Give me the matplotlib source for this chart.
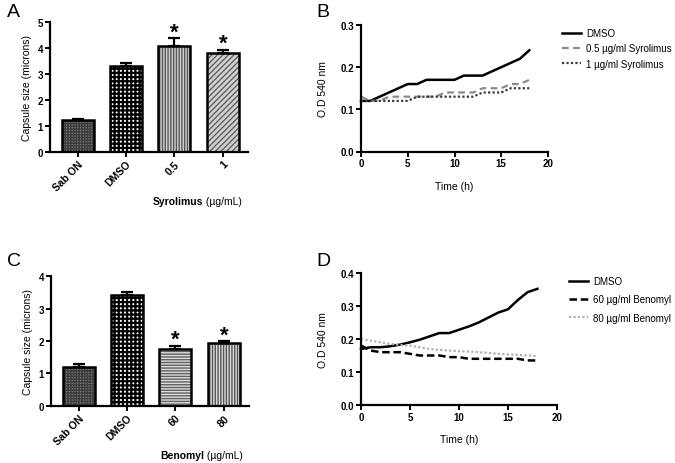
import matplotlib
matplotlib.use("Agg")
import matplotlib.pyplot as plt

plt.rcParams["font.family"] = ["Liberation Sans", "DejaVu Sans"]
plt.rcParams["hatch.linewidth"] = 1.0

# panel A / C bar data
syro_groups = ["Sab ON", "DMSO", "0.5", "1"]
syro_size = [1.21, 3.33, 4.08, 3.83]
syro_err = [0.06, 0.11, 0.30, 0.11]
syro_star = [False, False, True, True]

beno_groups = ["Sab ON", "DMSO", "60", "80"]
beno_size = [1.21, 3.42, 1.76, 1.93]
beno_err = [0.07, 0.11, 0.09, 0.07]
beno_star = [False, False, True, True]

# panel B / D growth curves
hours = [0, 1, 2, 3, 4, 5, 6, 7, 8, 9, 10, 11, 12, 13, 14, 15, 16, 17, 18]
od_syro_dmso = [0.12, 0.12, 0.13, 0.14, 0.15, 0.16, 0.16, 0.17, 0.17, 0.17,
                0.17, 0.18, 0.18, 0.18, 0.19, 0.20, 0.21, 0.22, 0.24]
od_syro_05 = [0.13, 0.12, 0.12, 0.13, 0.13, 0.13, 0.13, 0.13, 0.13, 0.14,
              0.14, 0.14, 0.14, 0.15, 0.15, 0.15, 0.16, 0.16, 0.17]
od_syro_1 = [0.12, 0.12, 0.12, 0.12, 0.12, 0.12, 0.13, 0.13, 0.13, 0.13,
             0.13, 0.13, 0.13, 0.14, 0.14, 0.14, 0.15, 0.15, 0.15]

od_beno_dmso = [0.170, 0.175, 0.175, 0.178, 0.183, 0.190, 0.198, 0.208, 0.218, 0.218,
                0.228, 0.238, 0.250, 0.265, 0.280, 0.290, 0.318, 0.342, 0.352]
od_beno_60 = [0.180, 0.165, 0.160, 0.160, 0.160, 0.155, 0.150, 0.150, 0.150, 0.145,
              0.145, 0.140, 0.140, 0.140, 0.140, 0.140, 0.140, 0.135, 0.135]
od_beno_80 = [0.200, 0.195, 0.190, 0.185, 0.182, 0.180, 0.175, 0.170, 0.167, 0.165,
              0.163, 0.162, 0.160, 0.158, 0.155, 0.153, 0.152, 0.150, 0.148]

TICK_FS = 7
LABEL_FS = 7.5
W, H = 675, 464


def style_axes(ax):
    for side in ("top", "right"):
        ax.spines[side].set_visible(False)
    for side in ("left", "bottom"):
        ax.spines[side].set_linewidth(1.6)
    ax.tick_params(direction="out", length=3.5, width=1.4, labelsize=TICK_FS, pad=1.5)
    for lab in ax.get_xticklabels() + ax.get_yticklabels():
        lab.set_fontweight("bold")


def bar_panel(ax, groups, values, errs, stars, styles, ymax, drug, drug_x):
    x = list(range(len(groups)))
    for xi, v, (face, hatch, hcol, hlw) in zip(x, values, styles):
        # hatch layer first, then the black outline on top
        with plt.rc_context({"hatch.linewidth": hlw}):
            ax.bar(xi, v, width=0.66, color=face, hatch=hatch, edgecolor=hcol, linewidth=0, zorder=2)
        ax.bar(xi, v, width=0.66, fill=False, edgecolor="black", linewidth=1.8, zorder=3)
    ax.errorbar(x, values, yerr=[[0] * len(errs), errs], fmt="none", ecolor="black",
                elinewidth=1.6, capsize=4.5, capthick=1.6, zorder=4)
    for xi, v, e, s in zip(x, values, errs, stars):
        if s:
            ax.annotate("*", xy=(xi, v + e), xytext=(0, 0.5), textcoords="offset points",
                        ha="center", va="baseline", fontsize=16, fontweight="bold")
    ax.set_xlim(-0.57, 3.52)
    ax.set_ylim(0, ymax)
    ax.set_yticks(range(ymax + 1))
    ax.set_xticks(x)
    ax.set_xticklabels(groups, rotation=45, ha="right", rotation_mode="anchor")
    ax.set_ylabel("Capsule size (microns)", fontsize=LABEL_FS, labelpad=4)
    style_axes(ax)
    for lab in ax.get_xticklabels():
        lab.set_fontsize(7.5)
    t = ax.text(drug_x, -0.34, drug, transform=ax.transAxes, ha="left", va="top",
                fontsize=LABEL_FS, fontweight="bold")
    ax.annotate(" (\u00b5g/mL)", xy=(1, 0), xycoords=t, va="bottom", ha="left", fontsize=LABEL_FS)


def line_panel(ax, fig, series, ymax, yticks, legend_xy, spacing):
    for y, lab, ls, col, lw in series:
        ax.plot(hours, y, linestyle=ls, color=col, linewidth=lw, label=lab, clip_on=False)
    ax.set_xlim(0, 20)
    ax.set_ylim(0, ymax)
    ax.set_xticks([0, 5, 10, 15, 20])
    ax.set_yticks(yticks)
    ax.set_yticklabels([f"{v:.1f}" for v in yticks])
    ax.set_xlabel("Time (h)", fontsize=LABEL_FS, labelpad=9)
    ax.set_ylabel("O.D 540 nm", fontsize=LABEL_FS, labelpad=9)
    style_axes(ax)
    ax.legend(loc="upper left", bbox_to_anchor=legend_xy, bbox_transform=fig.transFigure,
              frameon=False, fontsize=7, handlelength=2.0, handletextpad=0.5,
              labelspacing=spacing, borderaxespad=0, borderpad=0)


fig = plt.figure(figsize=(6.75, 4.64), dpi=100)


def px_axes(left, top, right, bottom):
    return fig.add_axes([left / W, 1 - bottom / H, (right - left) / W, (bottom - top) / H])


ax_a = px_axes(50, 23.3, 248, 152.7)
ax_b = px_axes(361, 26, 548, 152.5)
ax_c = px_axes(51, 277.3, 249, 406.7)
ax_d = px_axes(361, 274, 557, 406)

syro_styles = [("#7a7a7a", "++++++", "#3c3c3c", 1.0),
               ("white", "++++", "black", 1.6),
               ("#d2d2d2", "||||||", "#555555", 1.0),
               ("#d2d2d2", "//////", "#606060", 1.0)]
beno_styles = [("#7a7a7a", "++++++", "#3c3c3c", 1.0),
               ("white", "++++", "black", 1.6),
               ("#dcdcdc", "------", "#606060", 1.0),
               ("#dcdcdc", "||||||", "#555555", 1.0)]

bar_panel(ax_a, syro_groups, syro_size, syro_err, syro_star, syro_styles, 5, "Syrolimus", 0.52)
bar_panel(ax_c, beno_groups, beno_size, beno_err, beno_star, beno_styles, 4, "Benomyl", 0.55)

line_panel(ax_b, fig, [
    (od_syro_dmso, "DMSO", "-", "black", 1.8),
    (od_syro_05, "0.5 \u00b5g/ml Syrolimus", (0, (3, 2)), "#8a8a8a", 1.6),
    (od_syro_1, "1 \u00b5g/ml Syrolimus", (0, (1, 1)), "#3a3a3a", 1.6),
], 0.3, [0.0, 0.1, 0.2, 0.3], (562 / W, 1 - 29 / H), 0.55)

line_panel(ax_d, fig, [
    (od_beno_dmso, "DMSO", "-", "black", 1.8),
    (od_beno_60, "60 \u00b5g/ml Benomyl", (0, (3, 1.5)), "black", 1.8),
    (od_beno_80, "80 \u00b5g/ml Benomyl", (0, (1, 1)), "#b0b0b0", 1.6),
], 0.4, [0.0, 0.1, 0.2, 0.3, 0.4], (569 / W, 1 - 277 / H), 0.85)

for letter, x, y in [("A", 7, 4), ("B", 316, 4), ("C", 7, 253), ("D", 316, 253)]:
    fig.text(x / W, 1 - y / H, letter, fontsize=14, ha="left", va="top")

fig.savefig("out.png", dpi=100, facecolor="white")
